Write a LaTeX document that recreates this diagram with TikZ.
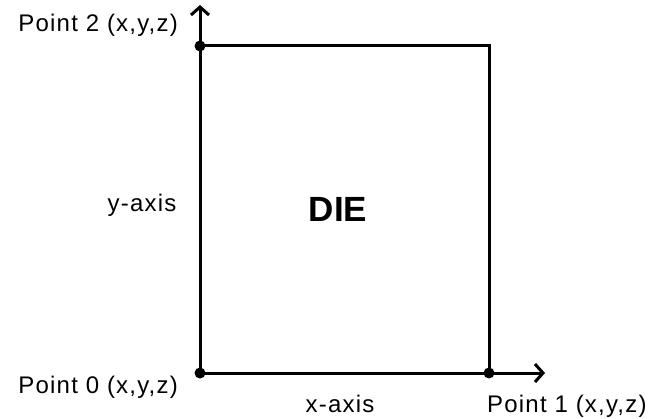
\documentclass[tikz,border=0pt]{standalone}
\usepackage{fontspec}
\setmainfont{Liberation Sans}
\usepackage{tikz}
\usetikzlibrary{arrows.meta,positioning}

\begin{document}
\begin{tikzpicture}[x=1pt,y=1pt,
  lbl/.style={inner sep=0pt,font=\fontsize{24}{28}\selectfont\addfontfeature{LetterSpace=5}},
  title/.style={inner sep=0pt,font=\fontsize{35}{40}\selectfont\bfseries},
  edge/.style={line width=3pt,line cap=rect},
  axis/.style={line width=3pt,-{Straight Barb[length=8pt,width=18pt,line width=3pt]}},
  dot/.style={circle,fill=black,inner sep=0pt,minimum size=11pt}]
  \useasboundingbox (0,0) rectangle (650,418);
  % corners of the die
  \coordinate (p0) at (200,45);
  \coordinate (p1) at (489,45);
  \coordinate (p2) at (200,372);
  \coordinate (p3) at (489,372);
  \coordinate (xtip) at (545,45);
  \coordinate (ytip) at (200,413);
  \draw[edge] (p2) -- (p3) -- (p1);
  \draw[axis] (p0) -- (ytip);
  \draw[axis] (p0) -- (xtip);
  \node[dot] (d0) at (p0) {};
  \node[dot] (d1) at (p1) {};
  \node[dot] (d2) at (p2) {};
  \node[lbl,anchor=base east] (l2) at (178,386) {Point 2 (x,y,z)};
  \node[lbl,anchor=base east] (l0) at (178,25) {Point 0 (x,y,z)};
  \node[lbl,anchor=base west] (l1) at (487,6) {Point 1 (x,y,z)};
  \node[lbl,anchor=base] (xl) at (340,6) {x-axis};
  \node[lbl,anchor=base] (yl) at (142,206) {y-axis};
  \node[title,anchor=base] (die) at (338,196) {DIE};
\end{tikzpicture}
\end{document}
